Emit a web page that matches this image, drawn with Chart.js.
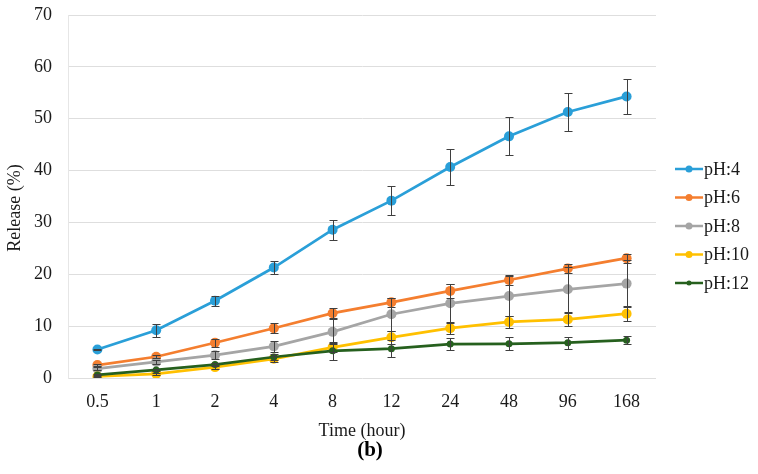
<!DOCTYPE html>
<html>
<head>
<meta charset="utf-8">
<script src="https://cdn.jsdelivr.net/npm/chart.js@4.4.1/dist/chart.umd.min.js"></script>
<style>
  html, body { margin: 0; padding: 0; background: #fff; }
  #wrap { width: 758px; height: 474px; position: relative; }
</style>
</head>
<body>
<div id="wrap"><canvas id="releaseChart"></canvas></div>
<script>
const times = ['0.5', '1', '2', '4', '8', '12', '24', '48', '96', '168'];
const seriesNames = ['pH:4', 'pH:6', 'pH:8', 'pH:10', 'pH:12'];

const pH4 = [5.5, 9.2, 14.9, 21.3, 28.6, 34.2, 40.7, 46.6, 51.3, 54.3];
const pH4Err = [0.15, 1.2, 1.0, 1.2, 1.9, 2.85, 3.4, 3.65, 3.65, 3.45];
const pH6 = [2.5, 4.1, 6.8, 9.6, 12.5, 14.6, 16.8, 18.9, 21.1, 23.1];
const pH6Err = [0.2, 0.3, 0.8, 1.0, 1.0, 0.9, 1.4, 1.0, 0.85, 0.9];
const pH8 = [1.8, 3.1, 4.4, 6.1, 8.9, 12.3, 14.4, 15.8, 17.1, 18.2];
const pH8Err = [0.3, 0.4, 0.8, 1.1, 2.4, 3.2, 3.7, 3.9, 4.4, 4.6];
const pH10 = [0.3, 0.8, 2.1, 3.7, 5.9, 7.85, 9.6, 10.8, 11.3, 12.4];
const pH10Err = [0.1, 0.2, 0.4, 0.6, 0.9, 1.3, 1.2, 1.2, 1.3, 1.4];
const pH12 = [0.6, 1.55, 2.6, 4.05, 5.25, 5.65, 6.55, 6.6, 6.8, 7.3];
const pH12Err = [0.1, 0.2, 0.3, 0.5, 1.7, 1.65, 1.2, 1.25, 1.2, 0.75];

const yTicks = [0, 10, 20, 30, 40, 50, 60, 70];

const colors = ['#2a9fd8', '#f47e2f', '#a5a5a5', '#ffc000', '#26601e'];
const values = [pH4, pH6, pH8, pH10, pH12];
const errors = [pH4Err, pH6Err, pH8Err, pH10Err, pH12Err];
const radii = [5, 5, 5, 5, 3.5];
const legendRadii = [3.5, 3.5, 3.5, 3.5, 2.5];

const FONT = '"Liberation Serif", "Times New Roman", serif';
const TEXT = '#1a1a1a';

const errorBars = {
  id: 'errorBars',
  afterDatasetsDraw(chart){
    const {ctx, scales:{x, y}} = chart;
    ctx.save();
    ctx.strokeStyle = '#3f3f3f';
    ctx.lineWidth = 1;
    chart.data.datasets.forEach((ds, di) => {
      const err = errors[di];
      ds.data.forEach((v, i) => {
        const px = Math.round(x.getPixelForValue(i)) + 0.5;
        const top = Math.round(y.getPixelForValue(v + err[i])) + 0.5;
        const bot = Math.round(y.getPixelForValue(v - err[i])) + 0.5;
        ctx.beginPath();
        ctx.moveTo(px, top); ctx.lineTo(px, bot);
        ctx.moveTo(px - 4, top); ctx.lineTo(px + 4, top);
        ctx.moveTo(px - 4, bot); ctx.lineTo(px + 4, bot);
        ctx.stroke();
      });
    });
    ctx.restore();
  }
};

// y title, legend at the right (line + dot marker) and the "(b)" panel label
const extras = {
  id: 'extras',
  afterDraw(chart){
    const {ctx, chartArea} = chart;
    ctx.save();
    ctx.fillStyle = TEXT;
    ctx.font = '18px ' + FONT;
    ctx.textAlign = 'center';
    ctx.textBaseline = 'middle';
    ctx.translate(15, 208);
    ctx.rotate(-Math.PI / 2);
    ctx.fillText('Release (%)', 0, 0);
    ctx.restore();

    const x0 = chartArea.right + 19;
    const yMid = 226, step = 28.5;
    ctx.save();
    ctx.font = '18px ' + FONT;
    ctx.textBaseline = 'middle';
    ctx.textAlign = 'left';
    chart.data.datasets.forEach((ds, i) => {
      const yy = yMid + (i - 2) * step;
      ctx.strokeStyle = ds.borderColor;
      ctx.lineWidth = 2.5;
      ctx.beginPath(); ctx.moveTo(x0, yy); ctx.lineTo(x0 + 28, yy); ctx.stroke();
      ctx.fillStyle = ds.borderColor;
      ctx.beginPath(); ctx.arc(x0 + 14, yy, legendRadii[i], 0, Math.PI * 2); ctx.fill();
      ctx.fillStyle = TEXT;
      ctx.fillText(ds.label, x0 + 29, yy + 1);
    });
    ctx.font = 'bold 21px ' + FONT;
    ctx.textAlign = 'center';
    ctx.fillStyle = '#000';
    ctx.fillText('(b)', 370, 451);
    ctx.restore();
  }
};

const datasets = seriesNames.map((name, i) => ({
  label: name,
  data: values[i],
  borderColor: colors[i],
  backgroundColor: colors[i],
  borderWidth: 2.75,
  pointRadius: radii[i],
  pointHoverRadius: radii[i],
  pointBorderWidth: 0,
  tension: 0,
  order: 5 - i
}));

new Chart(document.getElementById('releaseChart'), {
  type: 'line',
  data: { labels: times, datasets: datasets },
  options: {
    responsive: true,
    maintainAspectRatio: false,
    animation: false,
    layout: { padding: { left: 4, right: 102, top: 0, bottom: 32 } },
    plugins: {
      legend: { display: false },
      title: { display: false },
      tooltip: { enabled: false }
    },
    scales: {
      x: {
        offset: true,
        grid: { display: false, drawTicks: false },
        border: { display: false },
        ticks: { color: TEXT, padding: 13, maxRotation: 0, autoSkip: false, font: { family: FONT, size: 18 } },
        title: { display: true, text: 'Time (hour)', color: TEXT, font: { family: FONT, size: 18 }, padding: { top: 7, bottom: 0 } },
        afterFit(axis){ axis.height = 64; }
      },
      y: {
        min: 0, max: 70,
        afterBuildTicks(axis){ axis.ticks = yTicks.map(v => ({ value: v })); },
        grid: { color: '#dedede', drawTicks: false },
        border: { display: true, color: '#e6e6e6' },
        ticks: { color: TEXT, padding: 16, font: { family: FONT, size: 18 } },
        title: { display: false },
        afterFit(axis){ axis.width = 64; axis.paddingTop = 15; axis.paddingBottom = 0; }
      }
    }
  },
  plugins: [errorBars, extras]
});
</script>
</body>
</html>
